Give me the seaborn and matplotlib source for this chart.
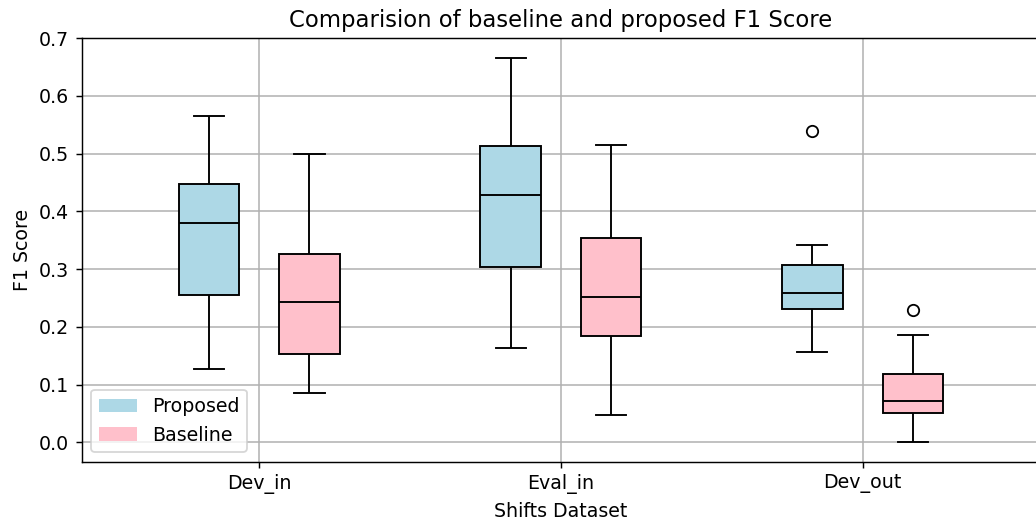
import numpy as np
import pandas as pd
import matplotlib
matplotlib.use("Agg")
import matplotlib.pyplot as plt
import seaborn as sns
from matplotlib.patches import Patch

# values (five-number summary + outliers)
datasets = ["Dev_in", "Eval_in", "Dev_out"]
methods = ["Proposed", "Baseline"]
colors = ["lightblue", "pink"]

proposed_low = [0.127, 0.164, 0.157]
proposed_q1 = [0.255, 0.304, 0.231]
proposed_med = [0.380, 0.428, 0.259]
proposed_q3 = [0.447, 0.513, 0.307]
proposed_high = [0.566, 0.666, 0.342]
proposed_fliers = [[], [], [0.539]]

baseline_low = [0.086, 0.048, 0.000]
baseline_q1 = [0.153, 0.184, 0.051]
baseline_med = [0.243, 0.252, 0.072]
baseline_q3 = [0.327, 0.354, 0.119]
baseline_high = [0.500, 0.515, 0.186]
baseline_fliers = [[], [], [0.229]]


def samples(lo, q1, med, q3, hi, fl):
    # 5 points give exact quartiles; with one outlier pad to 9 points
    vals = [lo, q1, med, q3, hi]
    if fl:
        vals += [q1, med, q3] + fl
    return vals


rows = []
summ = {
    "Proposed": (proposed_low, proposed_q1, proposed_med, proposed_q3, proposed_high, proposed_fliers),
    "Baseline": (baseline_low, baseline_q1, baseline_med, baseline_q3, baseline_high, baseline_fliers),
}
for m in methods:
    lo, q1, med, q3, hi, fl = summ[m]
    for i, d in enumerate(datasets):
        for v in samples(lo[i], q1[i], med[i], q3[i], hi[i], fl[i]):
            rows.append({"dataset": d, "method": m, "score": v})
df = pd.DataFrame(rows)

plt.rcParams["font.size"] = 10.5

fig, ax = plt.subplots(figsize=(1036 / 130, 524 / 130), dpi=130)
fig.subplots_adjust(left=0.0789, right=1.004, bottom=0.119, top=0.927)

sns.boxplot(data=df, x="dataset", y="score", hue="method", order=datasets,
            hue_order=methods, palette=dict(zip(methods, colors)), saturation=1,
            width=0.667, gap=0.4, linecolor="black", linewidth=1.05, whis=1.5,
            fliersize=6.3,
            flierprops=dict(marker="o", markerfacecolor="none",
                            markeredgecolor="black"),
            legend=False, ax=ax)

ax.set_xlim(-0.588, 2.588)
ax.set_ylim(-0.0333, 0.7)
ax.set_yticks(np.arange(0, 0.71, 0.1))
ax.grid(True, color="#b0b0b0", linewidth=0.85)
ax.set_title("Comparision of baseline and proposed F1 Score", fontsize=12.6)
ax.set_xlabel("Shifts Dataset")
ax.set_ylabel("F1 Score")

handles = [Patch(facecolor=c, edgecolor="none", label=m) for m, c in zip(methods, colors)]
ax.legend(handles=handles, loc="lower left")

fig.savefig("out.png", dpi=130)
